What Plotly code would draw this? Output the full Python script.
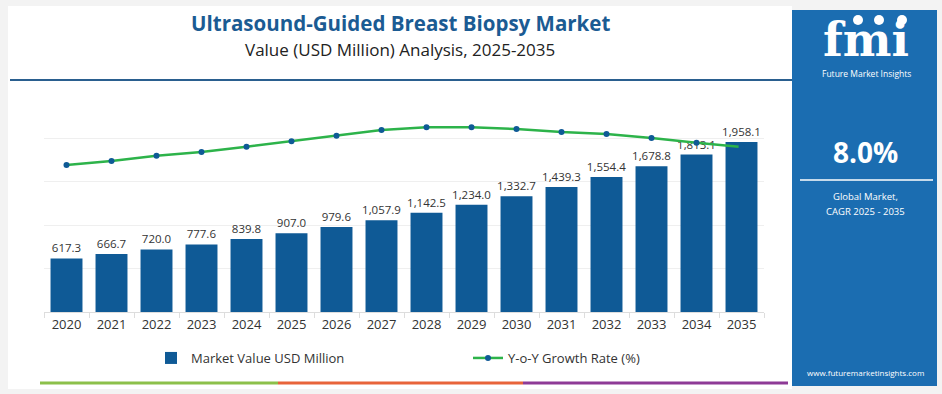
import plotly.graph_objects as go

years = [str(y) for y in range(2020, 2036)]
market_value = [617.3, 666.7, 720.0, 777.6, 839.8, 907.0, 979.6, 1057.9,
                1142.5, 1234.0, 1332.7, 1439.3, 1554.4, 1678.8, 1813.1, 1958.1]
yoy_growth = [6.77, 6.96, 7.20, 7.37, 7.62, 7.87, 8.12, 8.39,
              8.51, 8.51, 8.43, 8.29, 8.20, 8.02, 7.80, 7.60]

title = "Ultrasound-Guided Breast Biopsy Market"
subtitle = "Value (USD Million) Analysis, 2025-2035"
cagr = "8.0%"

W, H = 942, 394
L, R, T, B = 44, 178, 95, 82
PW, PH = W - L - R, H - T - B

def px(x):
    return (x - L) / PW

def py(y):
    return (H - B - y) / PH

BAR = "#0f5a96"
GREEN = "#2db34a"
PANEL = "#1b6db1"
FONT = "Open Sans"

fig = go.Figure()
fig.add_trace(go.Bar(
    x=years, y=market_value, name="Market Value USD Million",
    marker=dict(color=BAR, line=dict(width=0)),
    texttemplate="%{y:,.1f}", textposition="outside",
    textfont=dict(size=11.5, color="#333333", family=FONT),
    cliponaxis=False,
))
fig.add_trace(go.Scatter(
    x=years, y=yoy_growth, name="Y-o-Y Growth Rate (%)", yaxis="y2",
    mode="lines+markers",
    line=dict(color=GREEN, width=2.5),
    marker=dict(color=BAR, size=6),
))

shapes = [
    # white card
    dict(type="rect", xref="paper", yref="paper", layer="below",
         x0=px(8), x1=px(792), y0=py(389), y1=py(6),
         fillcolor="white", line=dict(width=0)),
    # separator line under title
    dict(type="line", xref="paper", yref="paper",
         x0=px(10), x1=px(792), y0=py(80), y1=py(80),
         line=dict(color="#2a5f8f", width=2)),
    # bottom color bars
    dict(type="line", xref="paper", yref="paper",
         x0=px(40), x1=px(278), y0=py(383), y1=py(383),
         line=dict(color="#8cc04a", width=3)),
    dict(type="line", xref="paper", yref="paper",
         x0=px(278), x1=px(523), y0=py(383), y1=py(383),
         line=dict(color="#e8643a", width=3)),
    dict(type="line", xref="paper", yref="paper",
         x0=px(523), x1=px(788), y0=py(383), y1=py(383),
         line=dict(color="#8e3b96", width=3)),
    # right panel
    dict(type="rect", xref="paper", yref="paper", layer="below",
         x0=px(792), x1=px(937), y0=py(386), y1=py(10),
         fillcolor=PANEL, line=dict(width=0)),
    dict(type="line", xref="paper", yref="paper",
         x0=px(800), x1=px(933), y0=py(180), y1=py(180),
         line=dict(color="white", width=1.5)),
]
for cx in (858, 879, 902):
    shapes.append(dict(type="circle", xref="paper", yref="paper",
                       x0=px(cx - 5), x1=px(cx + 5), y0=py(25), y1=py(15),
                       fillcolor="white", line=dict(width=0)))

def ann(text, x, y, size, color="white", bold=False, family=FONT):
    return dict(text=f"<b>{text}</b>" if bold else text, xref="paper", yref="paper",
                x=px(x), y=py(y), xanchor="center", yanchor="middle",
                showarrow=False, font=dict(size=size, color=color, family=family))

annotations = [
    ann(title, 400, 23, 20.5, color="#1b5b93", bold=True),
    ann(subtitle, 400, 50, 17, color="#222222"),
    ann("fmi", 866, 40, 46, bold=True, family="DejaVu Serif"),
    ann("Future Market Insights", 866, 73, 8.5),
    ann(cagr, 865, 152, 28, bold=True),
    ann("Global Market,", 865, 196, 9.5),
    ann("CAGR 2025 - 2035", 865, 211, 9.5),
    ann("www.futuremarketinsights.com", 865, 372, 8),
]

fig.update_layout(
    width=W, height=H,
    margin=dict(l=L, r=R, t=T, b=B, autoexpand=False),
    paper_bgcolor="#f3f3f3",
    plot_bgcolor="rgba(0,0,0,0)",
    font=dict(family=FONT, color="#333333"),
    bargap=0.29,
    uniformtext=dict(minsize=11.5, mode="show"),
    showlegend=True,
    legend=dict(orientation="h", x=px(151), xanchor="left", y=py(358), yanchor="middle",
                font=dict(size=13, color="#333333", family=FONT),
                entrywidth=272, entrywidthmode="pixels",
                bgcolor="rgba(0,0,0,0)"),
    xaxis=dict(
        showgrid=False, showline=True, linecolor="#dddddd", linewidth=1,
        ticks="outside", tickson="boundaries", ticklen=5, tickcolor="#dddddd",
        tickfont=dict(size=13, color="#333333", family=FONT),
        range=[-0.5, 15.5],
    ),
    yaxis=dict(
        range=[0, 2499], dtick=500, showgrid=True, gridcolor="#efefef",
        showticklabels=False, zeroline=False, ticks="",
    ),
    yaxis2=dict(
        range=[0, 10], overlaying="y", side="right",
        showgrid=False, showticklabels=False, zeroline=False,
    ),
    shapes=shapes,
    annotations=annotations,
)

fig.write_html("out.html", config={"displayModeBar": False},
               post_script="document.body.style.margin='0';")
